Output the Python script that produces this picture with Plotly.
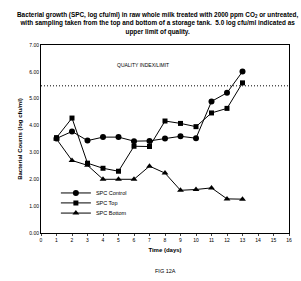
import plotly.graph_objects as go

days = [1, 2, 3, 4, 5, 6, 7, 8, 9, 10, 11, 12, 13]
spc_control = [3.52, 3.78, 3.44, 3.57, 3.57, 3.42, 3.43, 3.52, 3.60, 3.53, 4.90, 5.22, 6.01]
spc_top = [3.55, 4.28, 2.60, 2.41, 2.30, 3.23, 3.22, 4.17, 4.08, 3.96, 4.47, 4.64, 5.59]
spc_bottom = [3.50, 2.70, 2.52, 2.00, 2.00, 2.00, 2.49, 2.23, 1.59, 1.62, 1.68, 1.27, 1.26]
quality_limit = 5.48

x_ticks = list(range(0, 17))
y_ticks = [0, 1, 2, 3, 4, 5, 6, 7]

font_family = "Liberation Sans, Arial, sans-serif"

fig = go.Figure()
series = [
    ("SPC Control", spc_control, "circle", 6, "legend", 0.213),
    ("SPC Top", spc_top, "square", 5, "legend2", 0.160),
    ("SPC Bottom", spc_bottom, "triangle-up", 6, "legend3", 0.106),
]
legend_cfg = {}
for name, vals, sym, sz, lg, ly in series:
    fig.add_trace(go.Scatter(
        x=days, y=vals, name=name, mode="lines+markers", legend=lg,
        line=dict(color="black", width=1),
        marker=dict(symbol=sym, size=sz, color="black"),
    ))
    legend_cfg[lg] = dict(x=0.06, y=ly, xanchor="left", yanchor="middle",
                          bgcolor="rgba(0,0,0,0)", font=dict(size=5.5, family=font_family),
                          itemwidth=30, borderwidth=0)

fig.add_shape(type="line", xref="paper", yref="y", x0=0, x1=1,
              y0=quality_limit, y1=quality_limit,
              line=dict(color="black", width=1, dash="1px,2px"))
fig.add_annotation(x=6.6, y=6.26, xref="x", yref="y", text="QUALITY INDEX/LIMIT",
                   showarrow=False, font=dict(size=5, color="black", family=font_family))

fig.add_annotation(
    x=0.47, y=1.112, xref="paper", yref="paper", yanchor="middle", xanchor="center",
    text="<b>Bacterial growth (SPC, log cfu/ml) in raw whole milk treated with 2000 ppm CO<sub>2</sub> or untreated,<br>"
         "with sampling taken from the top and bottom of a storage tank.  5.0 log cfu/ml indicated as<br>"
         "upper limit of quality.</b>",
    showarrow=False, align="center",
    font=dict(size=6.4, color="black", family=font_family),
)

fig.add_annotation(x=0.5, y=-0.203, xref="paper", yref="paper", yanchor="middle", xanchor="center",
                   text="FIG 12A", showarrow=False,
                   font=dict(size=5.5, color="black", family=font_family))

fig.update_layout(
    width=301, height=281,
    margin=dict(l=41, r=12, t=45, b=48, autoexpand=False),
    paper_bgcolor="white", plot_bgcolor="white",
    font=dict(family=font_family, size=5, color="black"),
    showlegend=True,
    xaxis=dict(range=[0, 16], tickvals=x_ticks, ticks="outside", ticklen=2,
               showline=True, linecolor="black", linewidth=1, mirror=True,
               showgrid=False, zeroline=False, tickfont=dict(size=5), automargin=False,
               title=dict(text="<b>Time (days)</b>", font=dict(size=6), standoff=5)),
    yaxis=dict(range=[0, 7], tickvals=y_ticks, tickformat=".2f", ticks="",
               showline=True, linecolor="black", linewidth=1, mirror=True,
               showgrid=False, zeroline=False, tickfont=dict(size=5), automargin=False,
               title=dict(text="<b>Bacterial Counts (log cfu/ml)</b>", font=dict(size=6), standoff=6)),
    **legend_cfg,
)

fig.write_html("out.html")
